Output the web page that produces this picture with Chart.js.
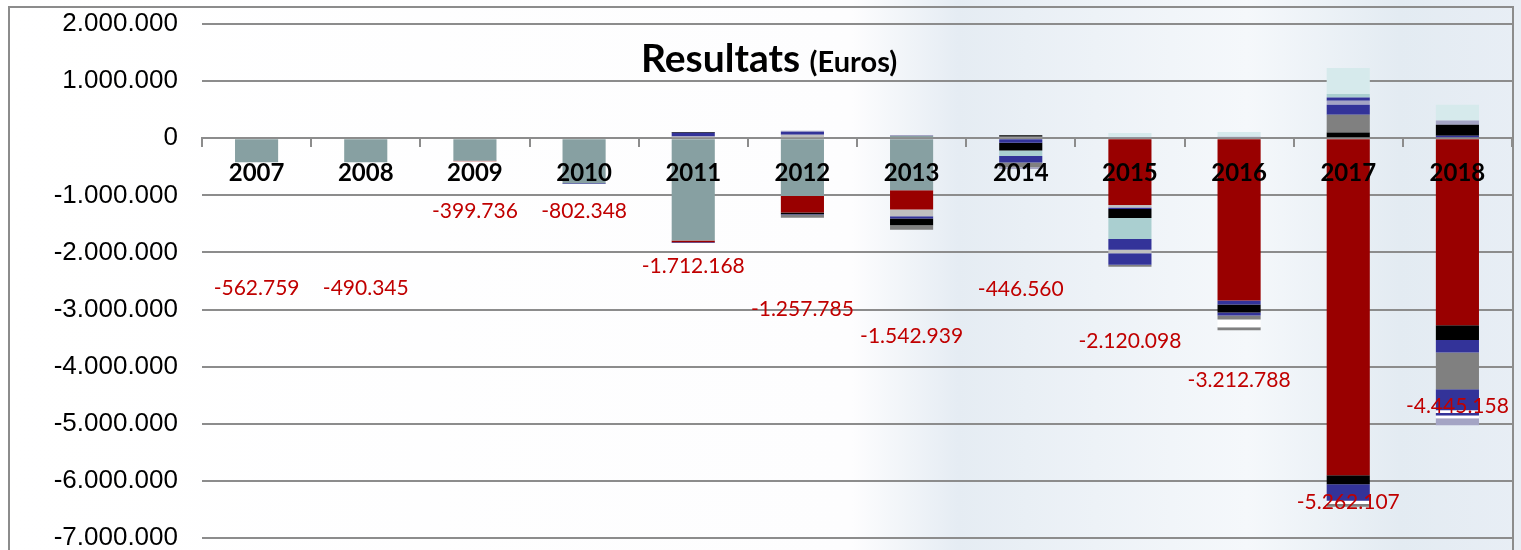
<!DOCTYPE html>
<html>
<head>
<meta charset="utf-8">
<script src="https://cdn.jsdelivr.net/npm/chart.js@4.4.1/dist/chart.umd.min.js"></script>
<style>
  html, body { margin: 0; padding: 0; }
  body {
    width: 1521px; height: 550px; overflow: hidden; position: relative;
    background: linear-gradient(90deg, #ffffff 0%, #fdfdfe 56%, #e5ecf3 63%, #edf2f7 72%, #f5f8fb 82%, #e3ebf2 92%, #e8eef5 100%);
  }
  #frame { position: absolute; left: 8px; top: 6px; width: 1506px; height: 600px; border: 2px solid #8c8c8c; box-sizing: border-box; }
  #wrap { position: absolute; left: 0; top: 0; width: 1521px; height: 550px; }
  #title { position: absolute; left: 641px; top: 34px; font-family: Lato, sans-serif; font-weight: bold; font-size: 39px; color: #000; white-space: nowrap; }
  #title span { font-size: 29px; }
</style>
</head>
<body>
<div id="frame"></div>
<div id="wrap"><canvas id="c" width="1521" height="550"></canvas></div>
<div id="title">Resultats <span>(Euros)</span></div>
<script>
const years = ['2007', '2008', '2009', '2010', '2011', '2012', '2013', '2014', '2015', '2016', '2017', '2018'];
const yTicks = [2000000, 1000000, 0, -1000000, -2000000, -3000000, -4000000, -5000000, -6000000, -7000000];

// net result per year (red labels) and where each label sits on the value axis
const totals = [-562759, -490345, -399736, -802348, -1712168, -1257785, -1542939, -446560, -2120098, -3212788, -5262107, -4445158];
const labelAt = [-2630000, -2630000, -1280000, -1280000, -2240000, -3000000, -3470000, -2640000, -3560000, -4240000, -6370000, -4690000];

// negative parts, stacked downward from 0 in this order
const negTeal = [-420000, -420000, -395000, -790000, -1790000, -1010000, -910000, 0, 0, 0, 0, 0];
const negRed = [0, 0, -8000, 0, -30000, -290000, -340000, 0, -1170000, -2840000, -5900000, -3275000];
const negLightGray = [0, 0, 0, 0, 0, 0, -117000, 0, -45000, 0, 0, 0];
const negBlueA = [0, 0, 0, -12000, -15000, 0, -40000, -80000, -23000, -70000, 0, 0];
const negBlack = [0, 0, 0, 0, 0, -30000, -117000, -135000, -158000, -140000, -158000, -260000];
const negAqua = [0, 0, 0, 0, 0, 0, 0, -95000, -368000, 0, 0, 0];
const negBlueB = [0, 0, 0, 0, 0, -12000, 0, -115000, -187000, -52000, -290000, -215000];
const negLightGray2 = [0, 0, 0, 0, 0, 0, 0, 0, -63000, 0, 0, 0];
const negBlueC = [0, 0, 0, 0, 0, 0, 0, 0, -200000, 0, 0, 0];
const negGray = [0, 0, 0, 0, 0, -50000, -80000, -85000, -35000, -70000, 0, -645000];
const negBlueD = [0, 0, 0, 0, 0, 0, 0, 0, 0, 0, 0, -370000];
const negWhite = [0, 0, 0, 0, 0, 0, 0, 0, 0, -140000, -55000, -47000];
const negBlueE = [0, 0, 0, 0, 0, 0, 0, 0, 0, 0, 0, -45000];
const negWhite2 = [0, 0, 0, 0, 0, 0, 0, 0, 0, 0, 0, -47000];
const negLavender = [0, 0, 0, 0, 0, 0, 0, -30000, 0, 0, 0, -120000];
const negGrayB = [0, 0, 0, 0, 0, 0, 0, 0, 0, -52000, -50000, 0];

// positive parts, stacked upward from 0 in this order
const posTeal = [0, 0, 0, 0, 0, 0, 40000, 0, 0, 0, 0, 0];
const posLightGray = [0, 0, 0, 0, 30000, 60000, 0, 25000, 0, 0, 0, 0];
const posBlueA = [0, 0, 0, 0, 65000, 55000, 0, 0, 0, 0, 0, 45000];
const posBlack = [0, 0, 0, 0, 15000, 0, 0, 25000, 0, 0, 100000, 190000];
const posGray = [0, 0, 0, 0, 0, 0, 0, 0, 0, 0, 310000, 0];
const posBlueB = [0, 0, 0, 0, 0, 0, 0, 0, 0, 0, 175000, 0];
const posLavender = [0, 0, 0, 0, 0, 15000, 15000, 0, 20000, 25000, 70000, 75000];
const posBlueC = [0, 0, 0, 0, 0, 0, 0, 0, 0, 0, 58000, 0];
const posAqua = [0, 0, 0, 0, 0, 0, 0, 0, 0, 0, 60000, 0];
const posCyan = [0, 0, 0, 0, 0, 0, 0, 0, 70000, 85000, 455000, 275000];

const C = {
  teal: '#87a0a2', red: '#990000', lightGray: '#bfbfbf', blue: '#333399', black: '#000000',
  aqua: '#aacfd0', gray: '#808080', lavender: '#a4a4c4', cyan: '#d6eaec', white: '#ffffff',
};

const series = [
  [negTeal, C.teal], [negRed, C.red], [negLightGray, C.lightGray], [negBlueA, C.blue], [negBlack, C.black],
  [negAqua, C.aqua], [negBlueB, C.blue], [negLightGray2, C.lightGray], [negBlueC, C.blue], [negGray, C.gray],
  [negBlueD, C.blue], [negWhite, C.white], [negBlueE, C.blue], [negWhite2, C.white], [negLavender, C.lavender],
  [negGrayB, C.gray],
  [posTeal, C.teal], [posLightGray, C.lightGray], [posBlueA, C.blue], [posBlack, C.black], [posGray, C.gray],
  [posBlueB, C.blue], [posLavender, C.lavender], [posBlueC, C.blue], [posAqua, C.aqua], [posCyan, C.cyan],
];

const fmt = (v) => String(v).replace(/\B(?=(\d{3})+(?!\d))/g, '.');
const GRID = '#8c8c8c';

const totalLabels = {
  id: 'totalLabels',
  afterDatasetsDraw(chart) {
    const { ctx, scales } = chart;
    ctx.save();
    ctx.font = '21px Lato, sans-serif';
    ctx.fillStyle = '#c00000';
    ctx.textAlign = 'center';
    ctx.textBaseline = 'middle';
    totals.forEach((t, i) => {
      ctx.fillText(fmt(t), scales.x.getPixelForValue(i), scales.y.getPixelForValue(labelAt[i]));
    });
    ctx.restore();
  },
};

new Chart(document.getElementById('c'), {
  type: 'bar',
  data: {
    labels: years,
    datasets: series.map(([values, color], i) => ({
      label: 'S' + i,
      data: values,
      backgroundColor: color,
      borderWidth: 0,
      barPercentage: 0.395,
      categoryPercentage: 1,
    })),
  },
  options: {
    responsive: false,
    animation: false,
    events: [],
    layout: { padding: { left: 0, right: 9, top: 24, bottom: 12 } },
    plugins: { legend: { display: false }, tooltip: { enabled: false }, title: { display: false } },
    scales: {
      x: {
        stacked: true,
        position: { y: 0 },
        grid: { offset: true, drawOnChartArea: false, drawTicks: true, tickLength: 8, color: GRID, lineWidth: 2 },
        border: { display: true, color: GRID, width: 2 },
        ticks: { display: false },
      },
      x2: {
        axis: 'x',
        type: 'category',
        position: { y: 0 },
        offset: true,
        grid: { display: false },
        border: { display: false },
        ticks: { z: 1, padding: 13, color: '#000', font: { family: 'Lato', weight: 'bold', size: 24 } },
      },
      y: {
        stacked: true,
        min: -7000000,
        max: 2000000,
        afterBuildTicks: (s) => { s.ticks = yTicks.map((v) => ({ value: v })); },
        afterFit: (s) => { s.width = 202; s.paddingTop = 0; s.paddingBottom = 0; },
        grid: { color: GRID, lineWidth: 2, drawTicks: false },
        border: { display: false },
        ticks: { padding: 24, color: '#000', font: { family: 'Liberation Sans', size: 26 }, callback: (v) => fmt(v) },
      },
    },
  },
  plugins: [totalLabels],
});
</script>
</body>
</html>
